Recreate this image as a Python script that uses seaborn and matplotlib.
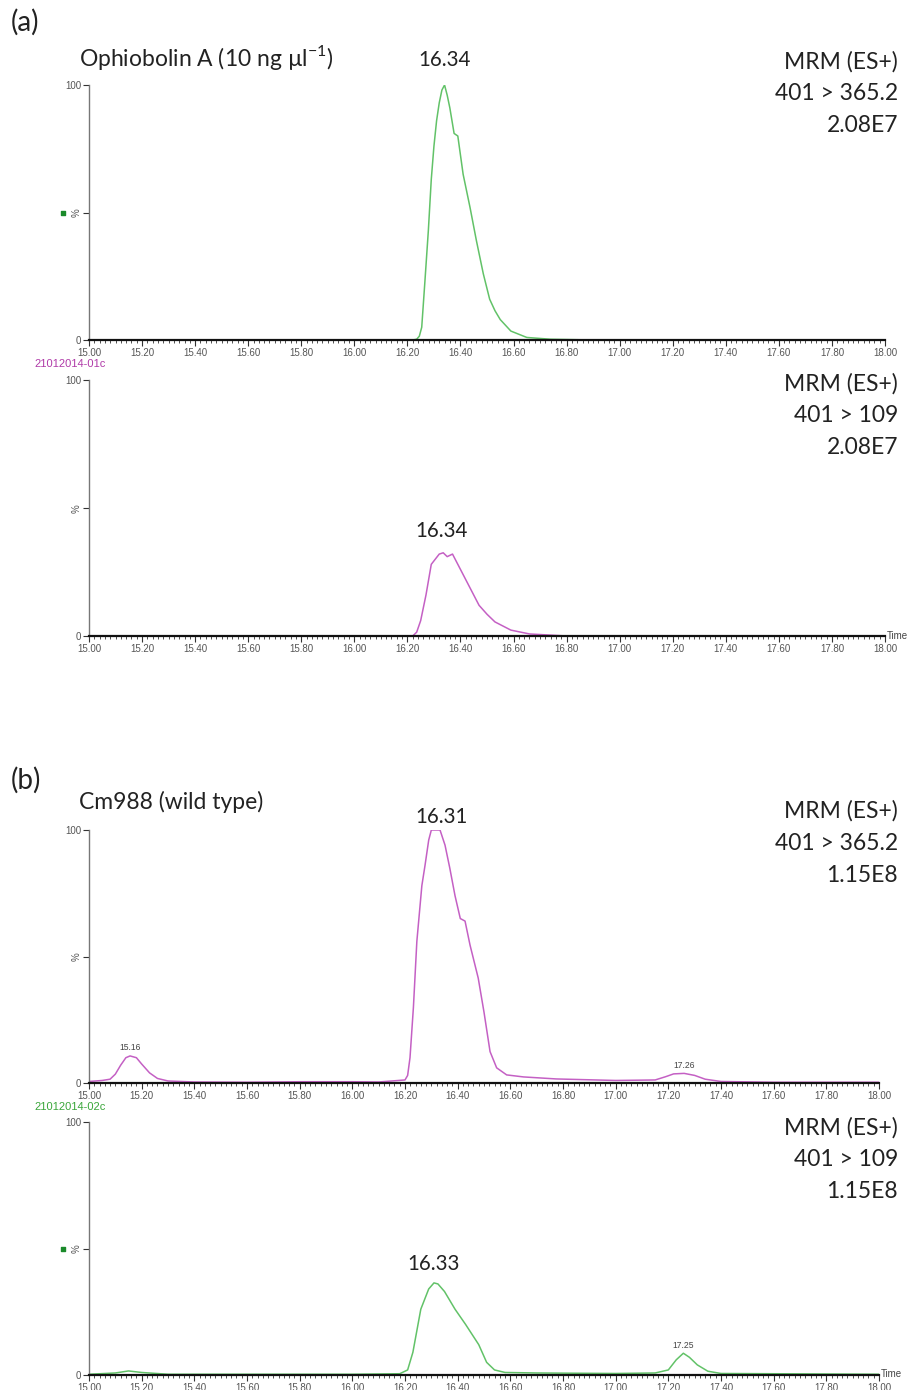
import numpy as np
import pandas as pd
import seaborn as sns
import matplotlib.pyplot as plt
from matplotlib.ticker import MultipleLocator
from matplotlib.transforms import blended_transform_factory

# chromatogram traces (retention time in min, relative intensity in %)
t1 = [15.00, 16.00, 16.22, 16.235, 16.245, 16.254, 16.266, 16.279, 16.29, 16.30, 16.31, 16.32, 16.33,
      16.34, 16.35, 16.36, 16.376, 16.39, 16.41, 16.436, 16.46, 16.486, 16.51, 16.53, 16.55, 16.59,
      16.65, 16.74, 16.90, 18.00]
i1 = [0, 0, 0, 0.3, 1.5, 5, 23, 43, 63, 76, 86, 93, 98,
      100, 96, 91, 81, 80, 65, 52, 39, 26, 16, 11.5, 8, 3.5,
      1, 0.3, 0, 0]

t2 = [15.00, 16.00, 16.22, 16.235, 16.25, 16.27, 16.29, 16.32, 16.335, 16.35, 16.37, 16.40, 16.44,
      16.47, 16.50, 16.53, 16.59, 16.66, 16.80, 18.00]
i2 = [0, 0, 0, 1.5, 6, 16, 28, 32, 32.5, 31, 32, 26, 18,
      12, 8.5, 5.5, 2.3, 0.8, 0, 0]

t3 = [15.00, 15.05, 15.08, 15.10, 15.12, 15.14, 15.156, 15.18, 15.20, 15.23, 15.26, 15.30, 15.40,
      15.60, 15.80, 16.00, 16.10, 16.20, 16.21, 16.219, 16.232, 16.245, 16.264, 16.276, 16.29, 16.30,
      16.333, 16.352, 16.37, 16.39, 16.41, 16.428, 16.447, 16.478, 16.50, 16.523, 16.548, 16.586,
      16.65, 16.775, 17.00, 17.15, 17.19, 17.22, 17.26, 17.30, 17.34, 17.40, 17.60, 18.00]
i3 = [0.6, 1.0, 1.5, 3.5, 7, 10, 10.7, 10, 7.5, 4, 1.8, 0.8, 0.4,
      0.3, 0.5, 0.5, 0.4, 1.2, 3, 10, 30, 56, 78, 86, 96, 100,
      100, 94, 85, 74, 65, 64, 54.5, 41.5, 28, 12.4, 6, 3.2,
      2.4, 1.6, 1.0, 1.2, 2.5, 3.6, 3.8, 3, 1.5, 0.6, 0.3, 0.3]

t4 = [15.00, 15.10, 15.15, 15.20, 15.30, 16.00, 16.18, 16.21, 16.23, 16.26, 16.29, 16.31, 16.325,
      16.35, 16.39, 16.43, 16.48, 16.51, 16.54, 16.58, 16.70, 17.00, 17.15, 17.20, 17.23, 17.257,
      17.28, 17.31, 17.35, 17.40, 18.00]
i4 = [0.3, 0.8, 1.6, 1.0, 0.3, 0.3, 0.5, 2, 9, 26, 34, 36.4, 36,
      33, 26, 20, 12, 5, 2, 1, 0.8, 0.6, 0.8, 2, 6, 8.6,
      7, 4, 1.5, 0.6, 0.3]

traces = [(t1, i1), (t2, i2), (t3, i3), (t4, i4)]
colors = ['#62c268', '#c460c4', '#c460c4', '#62c268']
mrm = [['MRM (ES+)', '401 > 365.2', '2.08E7'],
       ['MRM (ES+)', '401 > 109', '2.08E7'],
       ['MRM (ES+)', '401 > 365.2', '1.15E8'],
       ['MRM (ES+)', '401 > 109', '1.15E8']]
# peak labels (x, y in data units)
peak_big = [[(16.34, 110, '16.34')], [(16.33, 41, '16.34')],
            [(16.34, 105, '16.31')], [(16.31, 44, '16.33')]]
peak_small = [[], [], [(15.155, 14, '15.16'), (17.26, 7, '17.26')], [(17.255, 11.5, '17.25')]]

W, H = 912, 1390
def fx(px):
    return px / W
def fy(py):
    return 1 - py / H

# axes boxes in pixels: left, right, top(100%), bottom(0)
boxes = [(89, 885, 85, 340), (89, 885, 380, 636), (89, 879, 830, 1083), (89, 879, 1122, 1375)]

sns.set_style('ticks')
plt.rcParams['font.family'] = ['Lato', 'DejaVu Sans']
plt.rcParams['mathtext.fontset'] = 'custom'
plt.rcParams['mathtext.rm'] = 'Lato'

fig = plt.figure(figsize=(9.12, 13.9), dpi=100)
axes = []
for k, (l, r, top, bot) in enumerate(boxes):
    ax = fig.add_axes([fx(l), fy(bot), fx(r) - fx(l), fy(top) - fy(bot)])
    t, inten = traces[k]
    df = pd.DataFrame({'time': t, 'intensity': inten})
    sns.lineplot(data=df, x='time', y='intensity', ax=ax, color=colors[k], lw=1.1,
                 estimator=None, sort=False)
    ax.set_xlim(15, 18)
    ax.set_ylim(0, 100)
    ax.set_xlabel('')
    ax.set_ylabel('')
    ax.set_xticks(np.arange(15, 18.01, 0.2))
    ax.set_xticklabels([f'{v:.2f}' for v in np.arange(15, 18.01, 0.2)], family='Liberation Sans')
    ax.xaxis.set_minor_locator(MultipleLocator(0.02))
    ax.set_yticks([0, 50, 100])
    ax.set_yticklabels(['0', '%', '100'], family='Liberation Sans')
    ax.get_yticklabels()[1].set_rotation(90)
    ax.tick_params(axis='both', which='major', labelsize=7, labelcolor='#555555', length=4,
                   width=0.8, pad=1.5, color='#333333')
    ax.tick_params(axis='x', which='minor', length=2.5, width=0.6, color='#333333')
    for s in ['top', 'right']:
        ax.spines[s].set_visible(False)
    ax.spines['left'].set_color('#777777')
    ax.spines['left'].set_linewidth(1.0)
    ax.spines['bottom'].set_color('#111111')
    ax.spines['bottom'].set_linewidth(1.6)
    for (px, py, lab) in peak_big[k]:
        ax.text(px, py, lab, ha='center', va='center', fontsize=14.8, color='#222222', clip_on=False)
    for (px, py, lab) in peak_small[k]:
        ax.text(px, py, lab, ha='center', va='center', fontsize=6.2, color='#444444',
                family='Liberation Sans', clip_on=False)
    axes.append(ax)

# MRM info blocks
mrm_y = [62, 384, 811, 1128]
for k, lines in enumerate(mrm):
    for j, s in enumerate(lines):
        fig.text(fx(898), fy(mrm_y[k] + 32 * j), s, ha='right', va='center', fontsize=16.5, color='#222222')

fig.text(fx(11), fy(22), '(a)', ha='left', va='center', fontsize=20, color='#222222')
fig.text(fx(11), fy(780), '(b)', ha='left', va='center', fontsize=20, color='#222222')
fig.text(fx(79), fy(57), r'Ophiobolin A (10 ng µl$^{\mathregular{-1}}$)', ha='left', va='center',
         fontsize=16.5, color='#222222')
fig.text(fx(79), fy(802), 'Cm988 (wild type)', ha='left', va='center', fontsize=16.5, color='#222222')

fig.text(fx(34), fy(364), '21012014-01c', ha='left', va='center', fontsize=8, color='#b03aa8',
         family='Liberation Sans')
fig.text(fx(34), fy(1107), '21012014-02c', ha='left', va='center', fontsize=8, color='#3aa63a',
         family='Liberation Sans')
fig.text(fx(887), fy(636), 'Time', ha='left', va='center', fontsize=7, color='#444444',
         family='Liberation Sans')
fig.text(fx(881), fy(1374), 'Time', ha='left', va='center', fontsize=7, color='#444444',
         family='Liberation Sans')

# small green markers at the 50% level
for ax in [axes[0], axes[3]]:
    tr = blended_transform_factory(ax.transAxes, ax.transData)
    ax.scatter([-0.033], [50], marker='s', s=9, color='#1a8a2a', transform=tr, clip_on=False, zorder=5)

fig.savefig('out.png', dpi=100)
